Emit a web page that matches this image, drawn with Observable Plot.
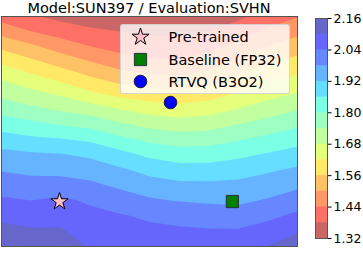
<!DOCTYPE html>
<html><head><meta charset="utf-8">
<script src="https://cdn.jsdelivr.net/npm/d3@7"></script>
<script src="https://cdn.jsdelivr.net/npm/@observablehq/plot@0.6"></script>
<style>
body{margin:0;background:#fff;}
#chart{position:relative;width:363px;height:255px;font-family:"DejaVu Sans",sans-serif;overflow:hidden;}
#chart svg{position:absolute;top:0;}
#title{position:absolute;left:0;top:1.2px;width:298px;text-align:center;font-size:14.5px;line-height:14.5px;color:#000;white-space:nowrap;}
#legend{position:absolute;left:119.5px;top:24px;width:170.5px;height:70px;box-sizing:border-box;background:rgba(255,255,255,0.8);border:1px solid rgba(204,204,204,0.8);border-radius:3px;}
#legend svg{position:absolute;left:-1px;top:-1px;}
</style>
</head><body><div id="chart"></div>
<script>
// ---- data ----
const titleText = "Model:SUN397 / Evaluation:SVHN";
const levels = [1.32, 1.38, 1.44, 1.50, 1.56, 1.62, 1.68, 1.74, 1.80, 1.86, 1.92, 1.98, 2.04, 2.10, 2.16];
const colorbarTicks = [1.32, 1.44, 1.56, 1.68, 1.80, 1.92, 2.04, 2.16];
const gridColumns = 11;
const gridRows = 16;
const lossGrid = [
  1.415, 1.387, 1.363, 1.345, 1.341, 1.333, 1.330, 1.339, 1.368, 1.405, 1.437,
  1.480, 1.442, 1.414, 1.394, 1.381, 1.371, 1.368, 1.381, 1.414, 1.454, 1.485,
  1.550, 1.515, 1.475, 1.443, 1.421, 1.409, 1.407, 1.423, 1.464, 1.505, 1.534,
  1.612, 1.576, 1.540, 1.504, 1.472, 1.452, 1.448, 1.474, 1.517, 1.554, 1.582,
  1.673, 1.637, 1.601, 1.565, 1.533, 1.514, 1.506, 1.531, 1.568, 1.604, 1.631,
  1.721, 1.696, 1.669, 1.629, 1.600, 1.582, 1.572, 1.591, 1.623, 1.656, 1.682,
  1.776, 1.752, 1.729, 1.708, 1.675, 1.652, 1.641, 1.652, 1.680, 1.708, 1.733,
  1.831, 1.813, 1.793, 1.778, 1.746, 1.720, 1.707, 1.713, 1.738, 1.762, 1.787,
  1.887, 1.871, 1.863, 1.849, 1.816, 1.786, 1.771, 1.775, 1.795, 1.816, 1.837,
  1.938, 1.928, 1.923, 1.909, 1.878, 1.848, 1.830, 1.832, 1.847, 1.866, 1.884,
  1.976, 1.966, 1.961, 1.952, 1.929, 1.901, 1.884, 1.884, 1.894, 1.912, 1.929,
  2.013, 2.003, 2.007, 1.992, 1.969, 1.946, 1.933, 1.932, 1.935, 1.949, 1.969,
  2.049, 2.040, 2.051, 2.032, 2.010, 1.988, 1.977, 1.972, 1.969, 1.985, 2.010,
  2.085, 2.074, 2.079, 2.055, 2.045, 2.030, 2.019, 2.011, 2.007, 2.027, 2.052,
  2.120, 2.108, 2.107, 2.074, 2.064, 2.055, 2.050, 2.046, 2.046, 2.066, 2.094,
  2.155, 2.142, 2.135, 2.093, 2.083, 2.075, 2.071, 2.069, 2.079, 2.102, 2.135
];
const methods = ["Pre-trained", "Baseline (FP32)", "RTVQ (B3O2)"];
const methodX = [1.96, 7.80, 5.71];
const methodY = [12.07, 12.07, 5.61];

// ---- styles ----
const markerStyles = [
  {symbol: "star", r: 5.4, fill: "#ffc0cb", stroke: "#000"},
  {symbol: "square", r: 6.9, fill: "#008000", stroke: "#25323f"},
  {symbol: "circle", r: 6.3, fill: "#0000ff", stroke: "#1a1a33"}
];
const FONT = "DejaVu Sans, sans-serif";

// jet colormap (matplotlib segment data), reversed, blended at alpha 0.6 on white
const jetSeg = {
  r: [[0,0],[0.35,0],[0.66,1],[0.89,1],[1,0.5]],
  g: [[0,0],[0.125,0],[0.375,1],[0.64,1],[0.91,0],[1,0]],
  b: [[0,0.5],[0.11,1],[0.34,1],[0.65,0],[1,0]]
};
function segVal(pts, t) {
  for (let i = 0; i < pts.length - 1; i++) {
    const [t0, v0] = pts[i], [t1, v1] = pts[i + 1];
    if (t <= t1) return v0 + (v1 - v0) * (t - t0) / (t1 - t0);
  }
  return pts[pts.length - 1][1];
}
const ALPHA = 0.6;
const nBands = levels.length - 1;
const bandColors = d3.range(nBands).map(k => {
  const t = 1 - (k + 0.5) / nBands;
  const c = ["r","g","b"].map(ch => Math.round((1 - ALPHA + ALPHA * segVal(jetSeg[ch], t)) * 255));
  return `rgb(${c[0]},${c[1]},${c[2]})`;
});
const colorScale = {type: "threshold", domain: levels.slice(1, -1), range: bandColors};

const points = methods.map((name, i) => ({name, x: methodX[i], y: methodY[i], i}));

const chart = document.getElementById("chart");

const main = Plot.plot({
  width: 300, height: 255,
  marginLeft: 1, marginRight: 3, marginTop: 16, marginBottom: 9,
  x: {domain: [0, gridColumns - 1], axis: null},
  y: {domain: [0, gridRows - 1], axis: null, reverse: true},
  color: colorScale,
  style: {fontFamily: FONT, background: "transparent"},
  marks: [
    Plot.contour(lossGrid, {
      value: d => d, width: gridColumns, height: gridRows,
      x1: -0.5, x2: gridColumns - 0.5, y1: -0.5, y2: gridRows - 0.5,
      thresholds: levels.slice(0, -1), fill: "value", stroke: "none", clip: true
    }),
    ...points.map((p, i) => Plot.dot([p], {
      x: "x", y: "y", symbol: markerStyles[i].symbol, r: markerStyles[i].r,
      fill: markerStyles[i].fill, stroke: markerStyles[i].stroke, strokeWidth: 1
    })),
    Plot.frame({stroke: "#555", strokeWidth: 1})
  ]
});
main.style.left = "0px";
chart.appendChild(main);

const cbBands = levels.slice(0, -1).map((lo, k) => ({lo, top: levels[levels.length - 1], k}));
const cbar = Plot.plot({
  width: 63, height: 255,
  marginLeft: 15, marginRight: 36, marginTop: 18, marginBottom: 17,
  x: {domain: [0, 1], axis: null},
  y: {domain: [levels[0], levels[levels.length - 1]], axis: null},
  color: colorScale,
  style: {fontFamily: FONT, background: "transparent", fontSize: "12.5px"},
  marks: [
    Plot.rect(cbBands, {x1: 0, x2: 1, y1: "lo", y2: "top", fill: "lo"}),
    Plot.frame({stroke: "#555", strokeWidth: 1}),
    Plot.axisY({anchor: "right", ticks: colorbarTicks, tickFormat: d3.format(".2f"),
      tickSize: 3.5, tickPadding: 2.5, fontSize: 12.5, label: null, stroke: "#000", fill: "#000"})
  ]
});
cbar.style.left = "300px";
chart.appendChild(cbar);

const title = document.createElement("div");
title.id = "title";
title.textContent = titleText;
chart.appendChild(title);

// legend
const legend = document.createElement("div");
legend.id = "legend";
chart.appendChild(legend);
const lsvg = d3.select(legend).append("svg").attr("width", 171).attr("height", 71);
const rowY = [13, 35.5, 57.5];
methods.forEach((name, i) => {
  const st = markerStyles[i];
  const typ = {star: d3.symbolStar, square: d3.symbolSquare, circle: d3.symbolCircle}[st.symbol];
  lsvg.append("path")
    .attr("d", d3.symbol(typ, Math.PI * st.r * st.r)())
    .attr("transform", `translate(20.5,${rowY[i]})`)
    .attr("fill", st.fill).attr("stroke", st.stroke).attr("stroke-width", 1);
  lsvg.append("text")
    .attr("x", 48.5).attr("y", rowY[i] + 5)
    .attr("font-family", FONT).attr("font-size", 14.5).attr("fill", "#000")
    .text(name);
});
</script>
</body></html>
